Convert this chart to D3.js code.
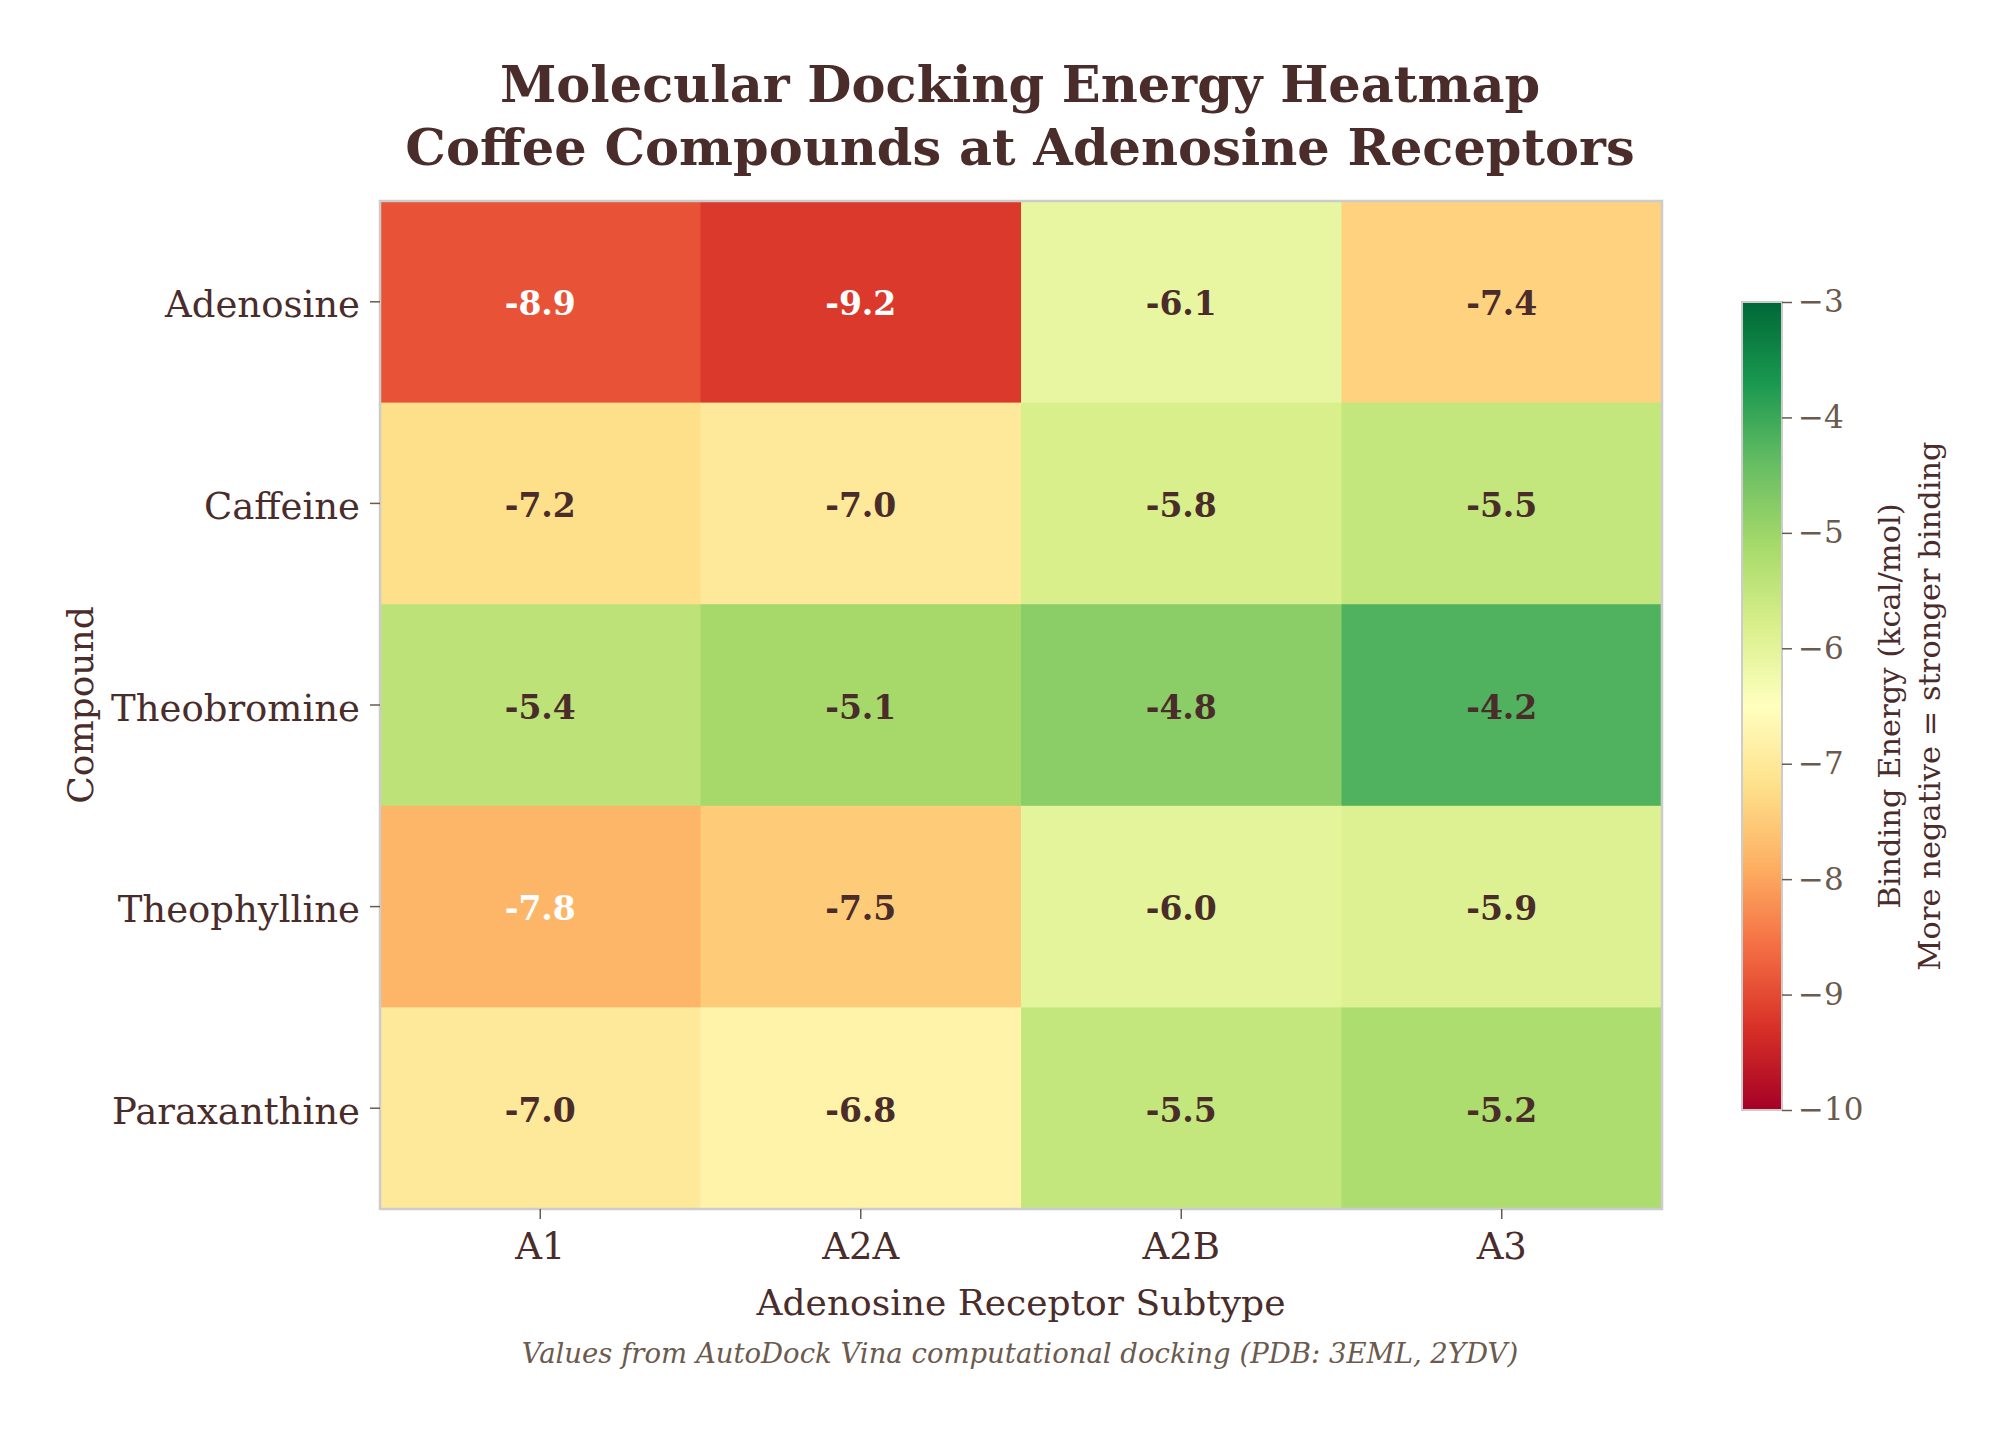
<!DOCTYPE html>
<html>
<head>
<meta charset="utf-8">
<script src="https://cdn.jsdelivr.net/npm/d3@7"></script>
<style>
  html, body { margin: 0; padding: 0; background: #fff; }
  svg { display: block; }
</style>
</head>
<body>
<svg id="chart" width="2009" height="1431"></svg>
<script>
// data
const compounds = ['Adenosine', 'Caffeine', 'Theobromine', 'Theophylline', 'Paraxanthine'];
const receptors = ['A1', 'A2A', 'A2B', 'A3'];
const adenosineE    = [-8.9, -9.2, -6.1, -7.4];
const caffeineE     = [-7.2, -7.0, -5.8, -5.5];
const theobromineE  = [-5.4, -5.1, -4.8, -4.2];
const theophyllineE = [-7.8, -7.5, -6.0, -5.9];
const paraxanthineE = [-7.0, -6.8, -5.5, -5.2];
const energyRows = [adenosineE, caffeineE, theobromineE, theophyllineE, paraxanthineE];
const colorbarTicks = [-10, -9, -8, -7, -6, -5, -4, -3];
const energyDomain = [-10, -3];

// RdYlGn, linearly interpolated like matplotlib
const rdylgn = ['#a50026','#d73027','#f46d43','#fdae61','#fee08b','#ffffbf',
                '#d9ef8b','#a6d96a','#66bd63','#1a9850','#006837'];

const FONT = "'DejaVu Serif', serif";
const INK = '#4a2c2a';
const SOFT = '#6b5a4e';

const svg = d3.select('#chart');
const plot = { left: 380, right: 1662, top: 201, bottom: 1209 };

const x = d3.scaleBand().domain(receptors).range([plot.left, plot.right]);
const y = d3.scaleBand().domain(compounds).range([plot.top, plot.bottom]);
const color = d3.scaleLinear()
  .domain(rdylgn.map((_, i) => energyDomain[0] + (energyDomain[1] - energyDomain[0]) * i / (rdylgn.length - 1)))
  .range(rdylgn)
  .interpolate(d3.interpolateRgb);

const cells = [];
compounds.forEach((c, i) => receptors.forEach((r, j) => cells.push({ c, r, v: energyRows[i][j] })));

// cells
const g = svg.append('g');
g.selectAll('rect.cell')
  .data(cells).enter().append('rect')
  .attr('class', 'cell')
  .attr('x', d => x(d.r)).attr('y', d => y(d.c))
  .attr('width', x.bandwidth() + 0.5).attr('height', y.bandwidth() + 0.5)
  .attr('fill', d => color(d.v));

g.selectAll('text.val')
  .data(cells).enter().append('text')
  .attr('class', 'val')
  .attr('x', d => x(d.r) + x.bandwidth() / 2)
  .attr('y', d => y(d.c) + y.bandwidth() / 2 + 2)
  .attr('text-anchor', 'middle').attr('dominant-baseline', 'central')
  .attr('font-family', FONT).attr('font-weight', 'bold').attr('font-size', '33px')
  .attr('fill', d => d.v < -7.6 ? '#ffffff' : INK)
  .text(d => d.v.toFixed(1));

// frame
svg.append('rect')
  .attr('x', plot.left).attr('y', plot.top)
  .attr('width', plot.right - plot.left).attr('height', plot.bottom - plot.top)
  .attr('fill', 'none').attr('stroke', '#cccccc').attr('stroke-width', 2.5);

// axes
const xAxis = svg.append('g')
  .attr('transform', `translate(0,${plot.bottom})`)
  .call(d3.axisBottom(x).tickSize(10).tickPadding(14));
const yAxis = svg.append('g')
  .attr('transform', `translate(${plot.left},0)`)
  .call(d3.axisLeft(y).tickSize(10).tickPadding(10));
[xAxis, yAxis].forEach(a => {
  a.select('.domain').remove();
  a.selectAll('.tick line').attr('stroke', SOFT).attr('stroke-width', 1.5);
  a.selectAll('.tick text')
    .attr('font-family', FONT).attr('font-size', '37px').attr('fill', INK);
});
yAxis.selectAll('.tick text').attr('dy', '0.42em');

// axis titles
svg.append('text')
  .attr('x', (plot.left + plot.right) / 2).attr('y', 1315)
  .attr('text-anchor', 'middle')
  .attr('font-family', FONT).attr('font-size', '36px').attr('fill', INK)
  .text('Adenosine Receptor Subtype');

svg.append('text')
  .attr('transform', `translate(93,${(plot.top + plot.bottom) / 2}) rotate(-90)`)
  .attr('text-anchor', 'middle')
  .attr('font-family', FONT).attr('font-size', '36px').attr('fill', INK)
  .text('Compound');

// title
const title = svg.append('text')
  .attr('text-anchor', 'middle')
  .attr('font-family', FONT).attr('font-weight', 'bold').attr('font-size', '51px').attr('fill', INK);
title.append('tspan').attr('x', 1020).attr('y', 102).text('Molecular Docking Energy Heatmap');
title.append('tspan').attr('x', 1020).attr('y', 165).text('Coffee Compounds at Adenosine Receptors');

// footnote
svg.append('text')
  .attr('x', 1020).attr('y', 1363)
  .attr('text-anchor', 'middle')
  .attr('font-family', FONT).attr('font-style', 'italic').attr('font-size', '27.5px').attr('fill', SOFT)
  .text('Values from AutoDock Vina computational docking (PDB: 3EML, 2YDV)');

// colorbar
const cb = { x: 1742, w: 40, top: 302, bottom: 1110 };
const cbScale = d3.scaleLinear().domain(energyDomain).range([cb.bottom, cb.top]);

const grad = svg.append('defs').append('linearGradient')
  .attr('id', 'cbGrad').attr('x1', 0).attr('y1', 1).attr('x2', 0).attr('y2', 0);
grad.selectAll('stop')
  .data(rdylgn).enter().append('stop')
  .attr('offset', (_, i) => i / (rdylgn.length - 1))
  .attr('stop-color', d => d);

svg.append('rect')
  .attr('x', cb.x).attr('y', cb.top)
  .attr('width', cb.w).attr('height', cb.bottom - cb.top)
  .attr('fill', 'url(#cbGrad)')
  .attr('stroke', '#cccccc').attr('stroke-width', 2);

const cbAxis = svg.append('g')
  .attr('transform', `translate(${cb.x + cb.w},0)`)
  .call(d3.axisRight(cbScale).tickValues(colorbarTicks).tickFormat(d3.format('d')).tickSize(10).tickPadding(6));
cbAxis.select('.domain').remove();
cbAxis.selectAll('.tick line').attr('stroke', SOFT).attr('stroke-width', 1.5);
cbAxis.selectAll('.tick text')
  .attr('font-family', FONT).attr('font-size', '31px').attr('fill', SOFT);

const cbLabel = svg.append('text')
  .attr('transform', `translate(0,${(cb.top + cb.bottom) / 2}) rotate(-90)`)
  .attr('text-anchor', 'middle')
  .attr('font-family', FONT).attr('font-size', '30.5px').attr('fill', INK);
cbLabel.append('tspan').attr('x', 0).attr('y', 1900).text('Binding Energy (kcal/mol)');
cbLabel.append('tspan').attr('x', 0).attr('y', 1940).text('More negative = stronger binding');
</script>
</body>
</html>
